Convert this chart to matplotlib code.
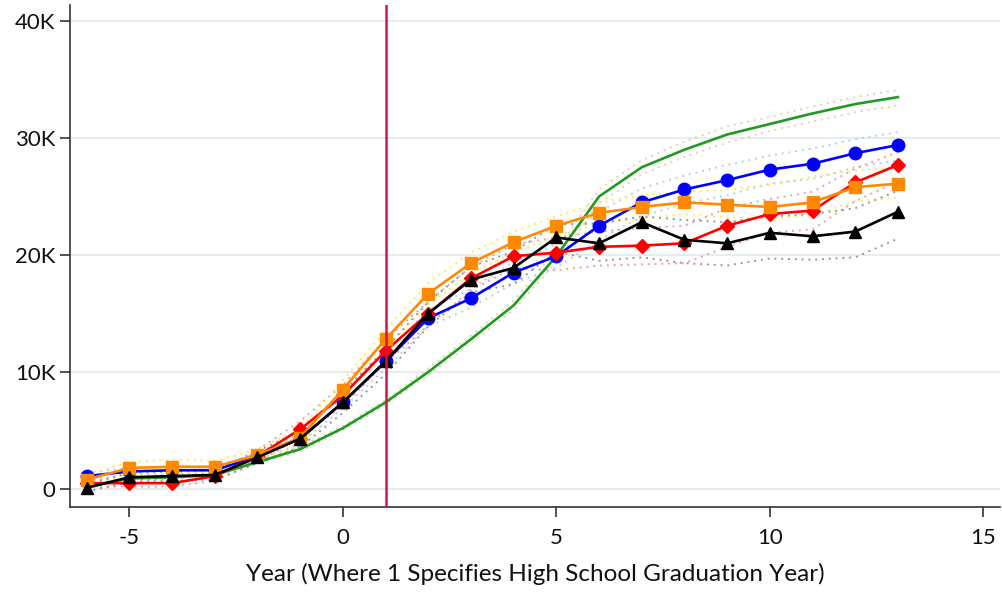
import numpy as np
import matplotlib.pyplot as plt
from matplotlib.ticker import FuncFormatter

plt.rcParams['font.family'] = ['Lato', 'DejaVu Sans']
plt.rcParams['axes.unicode_minus'] = False

years = np.arange(-6, 14)

# earnings in thousands, one series per group
green = [0.2, 0.9, 1.0, 1.2, 2.3, 3.4, 5.2, 7.4, 10.0, 12.8, 15.7, 19.9, 25.0, 27.5, 29.0, 30.3, 31.2, 32.1, 32.9, 33.5]
green_hi = [0.3, 1.0, 1.1, 1.3, 2.4, 3.6, 5.4, 7.6, 10.3, 13.1, 16.1, 20.4, 25.6, 28.1, 29.7, 31.0, 31.8, 32.7, 33.5, 34.1]
green_lo = [0.1, 0.8, 0.9, 1.1, 2.2, 3.2, 5.0, 7.2, 9.7, 12.5, 15.3, 19.4, 24.4, 26.9, 28.4, 29.6, 30.6, 31.4, 32.2, 32.8]

blue = [1.1, 1.5, 1.6, 1.6, 2.8, 4.3, 7.4, 10.9, 14.6, 16.3, 18.5, 19.9, 22.5, 24.5, 25.6, 26.4, 27.3, 27.8, 28.7, 29.4]
blue_hi = [1.4, 1.8, 1.9, 1.9, 3.1, 4.7, 7.9, 11.5, 15.3, 17.1, 19.4, 20.9, 23.7, 25.7, 26.8, 27.7, 28.5, 29.1, 29.9, 30.5]
blue_lo = [0.8, 1.2, 1.3, 1.3, 2.5, 3.9, 6.9, 10.3, 13.9, 15.5, 17.6, 18.9, 21.3, 23.3, 24.4, 25.1, 26.1, 26.5, 27.5, 28.1]

red = [0.5, 0.5, 0.5, 1.1, 2.8, 5.1, 8.0, 11.8, 15.0, 18.0, 19.9, 20.2, 20.7, 20.8, 21.0, 22.5, 23.5, 23.8, 26.2, 27.7]
red_hi = [0.8, 0.8, 0.8, 1.5, 3.3, 5.8, 8.9, 12.8, 16.0, 19.0, 20.9, 21.5, 22.0, 22.3, 22.5, 24.0, 24.8, 25.4, 27.4, 28.8]
red_lo = [0.2, 0.2, 0.2, 0.7, 2.3, 4.4, 7.1, 10.8, 14.0, 17.0, 18.9, 18.7, 19.1, 19.2, 19.3, 20.7, 21.9, 22.2, 24.6, 26.3]

orange = [0.8, 1.8, 1.9, 1.9, 2.9, 4.4, 8.5, 12.8, 16.7, 19.3, 21.1, 22.5, 23.6, 24.1, 24.5, 24.3, 24.1, 24.5, 25.8, 26.1]
orange_hi = [1.2, 2.3, 2.5, 2.4, 3.4, 5.1, 9.3, 13.6, 17.6, 20.2, 22.0, 23.3, 24.5, 25.1, 25.4, 25.6, 26.0, 26.7, 27.2, 27.5]
orange_lo = [0.4, 1.3, 1.4, 1.4, 2.4, 3.8, 7.7, 12.0, 15.8, 18.4, 20.2, 21.6, 22.7, 23.1, 23.5, 23.2, 23.1, 23.4, 24.6, 24.9]

black = [0.1, 1.0, 1.1, 1.2, 2.7, 4.3, 7.4, 10.9, 15.0, 17.9, 18.9, 21.5, 21.0, 22.8, 21.3, 21.0, 21.9, 21.6, 22.0, 23.7]
black_hi = [0.4, 1.4, 1.5, 1.6, 3.2, 5.0, 8.3, 12.0, 16.0, 19.0, 20.3, 22.6, 22.7, 23.3, 23.0, 22.8, 23.3, 23.5, 24.0, 25.5]
black_lo = [-0.2, 0.6, 0.7, 0.8, 2.2, 3.6, 6.5, 9.8, 13.9, 16.8, 17.5, 20.3, 19.5, 19.8, 19.3, 19.1, 19.7, 19.6, 19.8, 21.4]

grad_year = 1

fig = plt.figure(figsize=(10.03, 5.96), dpi=100)
ax = fig.add_axes([70 / 1003, 1 - 507 / 596, 930 / 1003, 502 / 596])

for y in [0, 10, 20, 30, 40]:
    ax.axhline(y, color='#e6edf1', lw=1.5, zorder=0)

# dotted confidence bands
bands = [
    (green_hi, green_lo, '#ddd6ae'),
    (blue_hi, blue_lo, '#b3d0f2'),
    (red_hi, red_lo, '#e8a0ac'),
    (orange_hi, orange_lo, '#f8f04a'),
    (black_hi, black_lo, '#999999'),
]
for hi, lo, c in bands:
    ax.plot(years, hi, ls=(0, (1, 2.5)), color=c, lw=1.4, zorder=1)
    ax.plot(years, lo, ls=(0, (1, 2.5)), color=c, lw=1.4, zorder=1)

ax.plot(years, green, color='#229a22', lw=1.9, zorder=2)
ax.plot(years, blue, color='#0000ff', lw=1.9, marker='o', ms=9, zorder=3)
ax.plot(years, red, color='#ff0000', lw=1.9, marker='D', ms=7.5, zorder=4)
ax.plot(years, orange, color='#ff8a00', lw=1.9, marker='s', ms=9, zorder=5)
ax.plot(years, black, color='#000000', lw=1.9, marker='^', ms=9, zorder=6)

ax.axvline(grad_year, color='#d0164a', lw=1.8, zorder=7)

ax.set_xlim(-6.39, 15.39)
ax.set_ylim(-1.54, 41.37)
ax.set_xticks([-5, 0, 5, 10, 15])
ax.set_yticks([0, 10, 20, 30, 40])
ax.yaxis.set_major_formatter(FuncFormatter(lambda v, p: '0' if v == 0 else '%dK' % v))

for s in ['top', 'right']:
    ax.spines[s].set_visible(False)
for s in ['left', 'bottom']:
    ax.spines[s].set_color('#333333')
    ax.spines[s].set_linewidth(1.2)

ax.tick_params(axis='both', direction='out', length=7, width=1.2, color='#333333',
               labelsize=16, labelcolor='#111111')
ax.tick_params(axis='x', pad=8)
ax.set_xlabel('Year (Where 1 Specifies High School Graduation Year)', fontsize=17.5,
              color='#111111', labelpad=11)

fig.savefig('out.png', dpi=100)
